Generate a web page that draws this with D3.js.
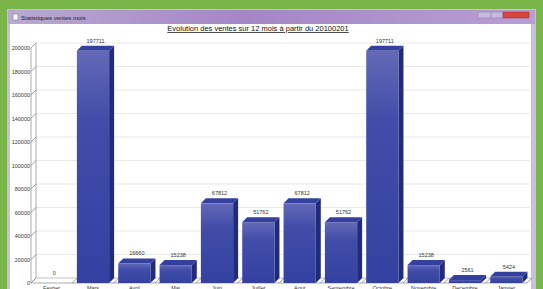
<!DOCTYPE html>
<html>
<head>
<meta charset="utf-8">
<script src="https://cdn.jsdelivr.net/npm/d3@7"></script>
<style>
  html, body { margin: 0; padding: 0; background: #79b548; overflow: hidden; }
  text { font-family: "Liberation Sans", Arial, sans-serif; }
</style>
</head>
<body>
<div id="chart"></div>
<script>
// data
const months = ['Fevrier', 'Mars', 'Avril', 'Mai', 'Juin', 'Juillet', 'Aout',
  'Septembre', 'Octobre', 'Novembre', 'Decembre', 'Janvier'];
const sales = [0, 197711, 16660, 15238, 67812, 51762, 67812, 51762, 197711, 15238, 2561, 5424];
const yTicks = [0, 20000, 40000, 60000, 80000, 100000, 120000, 140000, 160000, 180000, 200000];
const chartTitle = 'Evolution des ventes sur 12 mois à partir du 20100201';
const windowTitle = 'Statistiques ventes mois';

const W = 543;
const H = 289;
const depth = { dx: 5, dy: -5 };

const svg = d3.select('#chart').append('svg')
  .attr('width', W)
  .attr('height', H);

const defs = svg.append('defs');
const tb = defs.append('linearGradient').attr('id', 'titlebar');
tb.append('stop').attr('offset', '0%').attr('stop-color', '#b9a9d2');
tb.append('stop').attr('offset', '45%').attr('stop-color', '#a486c6');
tb.append('stop').attr('offset', '100%').attr('stop-color', '#b79ed3');

const front = defs.append('linearGradient').attr('id', 'front')
  .attr('x1', 0).attr('y1', 0).attr('x2', 0).attr('y2', 1);
front.append('stop').attr('offset', '0%').attr('stop-color', '#6369b7');
front.append('stop').attr('offset', '30%').attr('stop-color', '#414da8');
front.append('stop').attr('offset', '100%').attr('stop-color', '#3541a0');

// window frame
svg.append('rect')
  .attr('x', 7).attr('y', 9).attr('width', 529).attr('height', H)
  .attr('fill', '#c9bedb');
svg.append('rect')
  .attr('x', 8).attr('y', 10).attr('width', 527).attr('height', 14)
  .attr('fill', 'url(#titlebar)');
svg.append('rect')
  .attr('x', 13).attr('y', 14).attr('width', 5).attr('height', 6)
  .attr('fill', '#f2f2f2').attr('stroke', '#777').attr('stroke-width', 0.5);
svg.append('text')
  .attr('x', 21).attr('y', 19.5)
  .attr('font-size', 6)
  .attr('fill', '#222')
  .text(windowTitle);
// window buttons
svg.append('rect').attr('x', 478).attr('y', 12).attr('width', 13).attr('height', 6)
  .attr('fill', '#c7b9dc').attr('stroke', '#8e7aae').attr('stroke-width', 0.5);
svg.append('rect').attr('x', 491).attr('y', 12).attr('width', 12).attr('height', 6)
  .attr('fill', '#c7b9dc').attr('stroke', '#8e7aae').attr('stroke-width', 0.5);
svg.append('rect').attr('x', 503).attr('y', 12).attr('width', 26).attr('height', 6)
  .attr('fill', '#d9443b').attr('stroke', '#9e2a26').attr('stroke-width', 0.5);
svg.append('rect')
  .attr('x', 10).attr('y', 24).attr('width', 521).attr('height', H)
  .attr('fill', '#ffffff');

// chart title
svg.append('text')
  .attr('x', 258).attr('y', 31)
  .attr('text-anchor', 'middle')
  .attr('font-size', 7.5)
  .attr('text-decoration', 'underline')
  .attr('fill', '#111')
  .text(chartTitle);

// scales
const x = d3.scaleBand()
  .domain(months)
  .range([31, 527])
  .paddingInner(0.22)
  .paddingOuter(0.11);
const y = d3.scaleLinear()
  .domain([0, 200000])
  .range([283, 48]);

const plot = svg.append('g');

// back wall grid lines
plot.selectAll('line.grid')
  .data(yTicks.slice(1))
  .join('line')
  .attr('class', 'grid')
  .attr('x1', 31 + depth.dx).attr('x2', 530)
  .attr('y1', (d) => y(d) + depth.dy).attr('y2', (d) => y(d) + depth.dy)
  .attr('stroke', '#e2e2e2')
  .attr('stroke-width', 0.8);

// 3D y axis: front line, back line, diagonal ticks
plot.append('line')
  .attr('x1', 31).attr('x2', 31).attr('y1', y(200000)).attr('y2', y(0))
  .attr('stroke', '#888').attr('stroke-width', 0.7);
plot.append('line')
  .attr('x1', 31 + depth.dx).attr('x2', 31 + depth.dx)
  .attr('y1', y(200000) + depth.dy).attr('y2', y(0) + depth.dy)
  .attr('stroke', '#888').attr('stroke-width', 0.7);
plot.selectAll('line.ytick')
  .data(yTicks)
  .join('line')
  .attr('class', 'ytick')
  .attr('x1', 31).attr('x2', 31 + depth.dx)
  .attr('y1', (d) => y(d)).attr('y2', (d) => y(d) + depth.dy)
  .attr('stroke', '#777').attr('stroke-width', 0.7);
plot.selectAll('text.ylab')
  .data(yTicks)
  .join('text')
  .attr('class', 'ylab')
  .attr('x', 30).attr('y', (d) => y(d) + 2)
  .attr('text-anchor', 'end')
  .attr('font-size', 5.5)
  .attr('fill', '#333')
  .text((d) => d);

// floor
plot.append('line')
  .attr('x1', 31).attr('x2', 527).attr('y1', y(0)).attr('y2', y(0))
  .attr('stroke', '#888').attr('stroke-width', 0.7);
plot.append('line')
  .attr('x1', 31 + depth.dx).attr('x2', 527 + depth.dx)
  .attr('y1', y(0) + depth.dy).attr('y2', y(0) + depth.dy)
  .attr('stroke', '#aaa').attr('stroke-width', 0.7);
const bounds = months.map((m) => x(m) - (x.step() - x.bandwidth()) / 2).concat([527]);
plot.selectAll('line.floor')
  .data(bounds)
  .join('line')
  .attr('class', 'floor')
  .attr('x1', (d) => d).attr('x2', (d) => d + depth.dx)
  .attr('y1', y(0)).attr('y2', y(0) + depth.dy)
  .attr('stroke', '#777').attr('stroke-width', 0.7);

// bars
const bars = plot.selectAll('g.bar')
  .data(months.map((m, i) => ({ month: m, value: sales[i] })))
  .join('g')
  .attr('class', 'bar');

const bw = x.bandwidth();
bars.filter((d) => d.value > 0).append('path')
  .attr('fill', '#212b7e')
  .attr('d', (d) => {
    const x1 = x(d.month) + bw;
    const t = y(d.value);
    const b = y(0);
    return `M${x1},${t}L${x1 + depth.dx},${t + depth.dy}L${x1 + depth.dx},${b + depth.dy}L${x1},${b}Z`;
  });
bars.filter((d) => d.value > 0).append('path')
  .attr('fill', '#34409e')
  .attr('d', (d) => {
    const x0 = x(d.month);
    const t = y(d.value);
    return `M${x0},${t}L${x0 + depth.dx},${t + depth.dy}L${x0 + bw + depth.dx},${t + depth.dy}L${x0 + bw},${t}Z`;
  });
bars.filter((d) => d.value > 0).append('rect')
  .attr('x', (d) => x(d.month))
  .attr('y', (d) => y(d.value))
  .attr('width', bw)
  .attr('height', (d) => y(0) - y(d.value))
  .attr('fill', 'url(#front)');

// value labels
bars.append('text')
  .attr('x', (d) => x(d.month) + bw / 2 + depth.dx / 2)
  .attr('y', (d) => y(d.value) + depth.dy - 3)
  .attr('text-anchor', 'middle')
  .attr('font-size', 5.5)
  .attr('fill', '#333')
  .text((d) => d.value);

// category labels (partly cut by the window edge, as in the screenshot)
plot.selectAll('text.xlab')
  .data(months)
  .join('text')
  .attr('class', 'xlab')
  .attr('x', (d) => x(d) + bw / 2)
  .attr('y', 289.5)
  .attr('text-anchor', 'middle')
  .attr('font-size', 5.5)
  .attr('fill', '#333')
  .text((d) => d);
</script>
</body>
</html>
